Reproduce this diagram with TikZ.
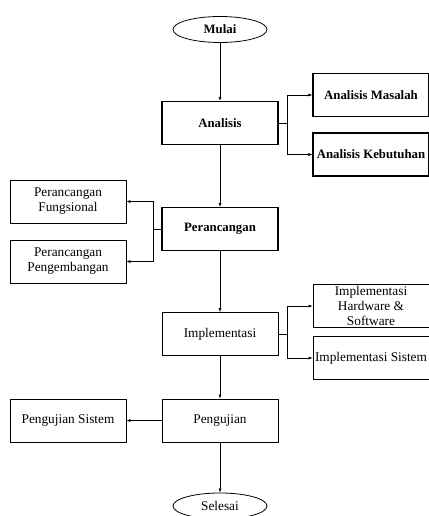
\documentclass[tikz,border=0pt]{standalone}
\usepackage{fontspec}
\setmainfont{Liberation Serif}
\usetikzlibrary{arrows.meta,shapes.geometric}
\begin{document}
\begin{tikzpicture}[x=1pt,y=-1pt,
  box/.style={draw, line width=0.6pt, minimum width=116pt, minimum height=43pt, align=center, inner sep=1pt, font=\fontsize{13.3}{15}\selectfont},
  boldbox/.style={box, line width=1.1pt, font=\fontsize{12.8}{15}\selectfont\bfseries},
  term/.style={ellipse, draw, line width=0.8pt, minimum width=94pt, minimum height=26pt, inner sep=0pt, font=\fontsize{13.3}{15}\selectfont},
  arr/.style={-{Latex[length=4pt,width=3pt]}, line width=0.6pt}]
\useasboundingbox (0,0) rectangle (428,516);
% main column
\node[term, font=\fontsize{12.8}{15}\selectfont\bfseries] (mulai) at (220,29.5) {Mulai};
\node[boldbox] (analisis) at (220,123) {Analisis};
\node[boldbox] (perancangan) at (220,229) {Perancangan};
\node[box] (implementasi) at (220,334) {Implementasi};
\node[box] (pengujian) at (220,420.5) {Pengujian};
\node[term] (selesai) at (220,506) {Selesai};
% right side
\node[boldbox] (masalah) at (371,95) {Analisis Masalah};
\node[boldbox] (kebutuhan) at (371,154.5) {Analisis Kebutuhan};
\node[box] (hardware) at (371,306) {Implementasi\\Hardware \&\\Software};
\node[box] (sistem) at (371,358) {Implementasi Sistem};
% left side
\node[box] (fungsional) at (68,201.5) {Perancangan\\Fungsional};
\node[box] (pengembangan) at (68,261.5) {Perancangan\\Pengembangan};
\node[box] (ujisistem) at (68,420.5) {Pengujian Sistem};
% main arrows
\draw[arr] (mulai) -- (analisis);
\draw[arr] (analisis) -- (perancangan);
\draw[arr] (perancangan) -- (implementasi);
\draw[arr] (implementasi) -- (pengujian);
\draw[arr] (pengujian) -- (selesai);
% branches
\coordinate (ba) at (287,123);
\draw[line width=0.6pt] (analisis.east) -- (ba);
\draw[arr] (ba) |- (masalah.west);
\draw[arr] (ba) |- (kebutuhan.west);
\coordinate (bp) at (153,229);
\draw[line width=0.6pt] (perancangan.west) -- (bp);
\draw[arr] (bp) |- (fungsional.east);
\draw[arr] (bp) |- (pengembangan.east);
\coordinate (bi) at (287,334);
\draw[line width=0.6pt] (implementasi.east) -- (bi);
\draw[arr] (bi) |- (hardware.west);
\draw[arr] (bi) |- (sistem.west);
\draw[arr] (pengujian) -- (ujisistem);
\end{tikzpicture}
\end{document}
